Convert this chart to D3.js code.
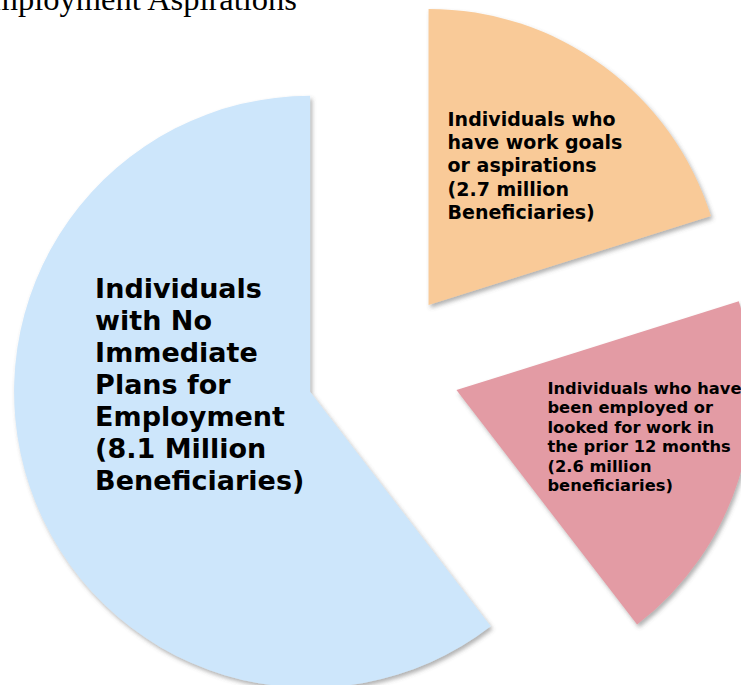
<!DOCTYPE html>
<html>
<head>
<meta charset="utf-8">
<script src="https://cdn.jsdelivr.net/npm/d3@7"></script>
<style>
  body { margin: 0; background: #fff; overflow: hidden; }
</style>
</head>
<body>
<svg width="741" height="685"></svg>
<script>
  // data
  var categories = ['Work goals', 'Employed or looked', 'No immediate plans'];
  var values = [2.7, 2.6, 8.1];
  var labels = [
    ['Individuals who', 'have work goals', 'or aspirations', '(2.7 million', 'Beneficiaries)'],
    ['Individuals who have', 'been employed or', 'looked for work in', 'the prior 12 months', '(2.6 million', 'beneficiaries)'],
    ['Individuals', 'with No', 'Immediate', 'Plans for', 'Employment', '(8.1 Million', 'Beneficiaries)']
  ];
  var colors = ['#f9ca98', '#e39ba4', '#cde6fb'];

  var svg = d3.select('svg'),
    cx = 383, cy = 367,
    radius = 296,
    explode = 77;

  // drop shadow
  var defs = svg.append('defs');
  defs.append('filter')
    .attr('id', 'shadow')
    .attr('x', '-10%').attr('y', '-10%')
    .attr('width', '120%').attr('height', '120%')
    .append('feDropShadow')
    .attr('dx', 2).attr('dy', 3)
    .attr('stdDeviation', 2)
    .attr('flood-color', '#555')
    .attr('flood-opacity', 0.45);

  // title (cut off at the top-left, as in the source)
  svg.append('text')
    .attr('x', 297)
    .attr('y', 10)
    .attr('text-anchor', 'end')
    .style('font-family', '"Liberation Serif", "Times New Roman", serif')
    .style('font-size', '32.5px')
    .text('Employment Aspirations');

  var pie = d3.pie().sort(null)(values);
  var arc = d3.arc().innerRadius(0).outerRadius(radius);

  var g = svg.append('g').attr('transform', 'translate(' + cx + ',' + cy + ')');

  var slices = g.selectAll('g.slice')
    .data(pie)
    .enter().append('g')
    .attr('class', 'slice')
    .attr('transform', function(d) {
      var a = (d.startAngle + d.endAngle) / 2;
      return 'translate(' + (explode * Math.sin(a)) + ',' + (-explode * Math.cos(a)) + ')';
    });

  slices.append('path')
    .attr('d', arc)
    .attr('fill', function(d, i) { return colors[i]; })
    .attr('filter', 'url(#shadow)');

  // label layout, relative to each slice's own vertex
  var labelLayout = [
    { dx: 19, dy: -179, size: 19, lh: 23.2 },
    { dx: 91, dy: 4, size: 16.3, lh: 19.4 },
    { dx: -215, dy: -94, size: 27, lh: 32 }
  ];

  slices.each(function(d, i) {
    var L = labelLayout[i];
    var t = d3.select(this).append('text')
      .attr('x', L.dx)
      .attr('y', L.dy)
      .style('font-family', '"DejaVu Sans", Verdana, sans-serif')
      .style('font-weight', 'bold')
      .style('font-size', L.size + 'px')
      .attr('fill', '#000');
    t.selectAll('tspan')
      .data(labels[i])
      .enter().append('tspan')
      .attr('x', L.dx)
      .attr('dy', function(s, j) { return j === 0 ? 0 : L.lh; })
      .text(function(s) { return s; });
  });
</script>
</body>
</html>
